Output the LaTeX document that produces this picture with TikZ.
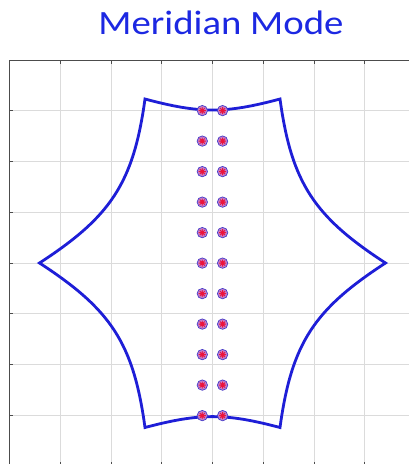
\documentclass[tikz,border=0pt]{standalone}
\usepackage{fontspec}
\newfontfamily\titlefont{Carlito}
\definecolor{titleblue}{RGB}{28,40,226}
\definecolor{curveblue}{RGB}{30,30,215}
\definecolor{dotfill}{RGB}{196,128,204}
\definecolor{dotring}{RGB}{70,60,200}
\definecolor{dotred}{RGB}{235,20,60}
\begin{document}
\begin{tikzpicture}[x=1pt,y=-1pt,
  gridline/.style={draw=black!14, line width=0.8pt},
  axisline/.style={draw=black!70, line width=0.9pt},
  tickline/.style={draw=black!70, line width=0.8pt},
  curve/.style={draw=curveblue, line width=2.8pt, line join=miter, miter limit=20},
  dotmark/.style={circle, minimum size=10.4pt, inner sep=0pt, draw=dotring, line width=0.7pt, fill=dotfill,
    path picture={
      \draw[dotred, line width=0.8pt] (path picture bounding box.center)
        +(-3.6pt,0) -- +(3.6pt,0) +(0,-3.6pt) -- +(0,3.6pt)
        +(-2.6pt,-2.6pt) -- +(2.6pt,2.6pt) +(-2.6pt,2.6pt) -- +(2.6pt,-2.6pt);
      \fill[dotred] (path picture bounding box.center) circle (2.1pt);
    }},
  titletext/.style={font=\titlefont\fontsize{34}{40}\selectfont, text=titleblue, inner sep=0pt, xscale=1.14}
]
\useasboundingbox (0,0) rectangle (409,464);
\clip (0,0) rectangle (409,464);
\fill[white] (0,0) rectangle (409,464);

% grid
\foreach \k in {-3,...,3}{
  \draw[gridline] ({212.5+50.72*\k},60.1) -- ({212.5+50.72*\k},466);
  \draw[gridline] (9.6,{263+50.72*\k}) -- (415.4,{263+50.72*\k});
}
% axes
\draw[axisline] (9.6,466) -- (9.6,60.1) -- (415.4,60.1);
\foreach \k in {-3,...,3}{
  \draw[tickline] (9.6,{263+50.72*\k}) -- +(3.8,0);
  \draw[tickline] ({212.5+50.72*\k},60.1) -- +(0,3.8);
  \draw[tickline] ({212.5+50.72*\k},465.9) -- +(0,-3.8);
}

% title
\node[titletext, anchor=base] (title) at (221,34.3) {Meridian Mode};

% outline
\coordinate (L) at (39.5,263);
\coordinate (TL) at (145,99);
\coordinate (TR) at (280,99);
\coordinate (R) at (385.5,263);
\coordinate (BR) at (280,427.5);
\coordinate (BL) at (145,427.5);
\draw[curve]
  (L) .. controls (110.7,216.7) and (133.4,183.2) .. (TL)
      .. controls (200,113.7) and (225,113.7) .. (TR)
      .. controls (291.6,183.2) and (314.3,216.7) .. (R)
      .. controls (314.3,309.3) and (291.6,342.8) .. (BR)
      .. controls (225,413) and (200,413) .. (BL)
      .. controls (133.4,342.8) and (110.7,309.3) .. cycle;

% dots
\foreach \i in {0,...,10}{
  \node[dotmark] (dl\i) at (202.3,{110.6+30.5*\i}) {};
  \node[dotmark] (dr\i) at (222.6,{110.6+30.5*\i}) {};
}
\end{tikzpicture}
\end{document}
